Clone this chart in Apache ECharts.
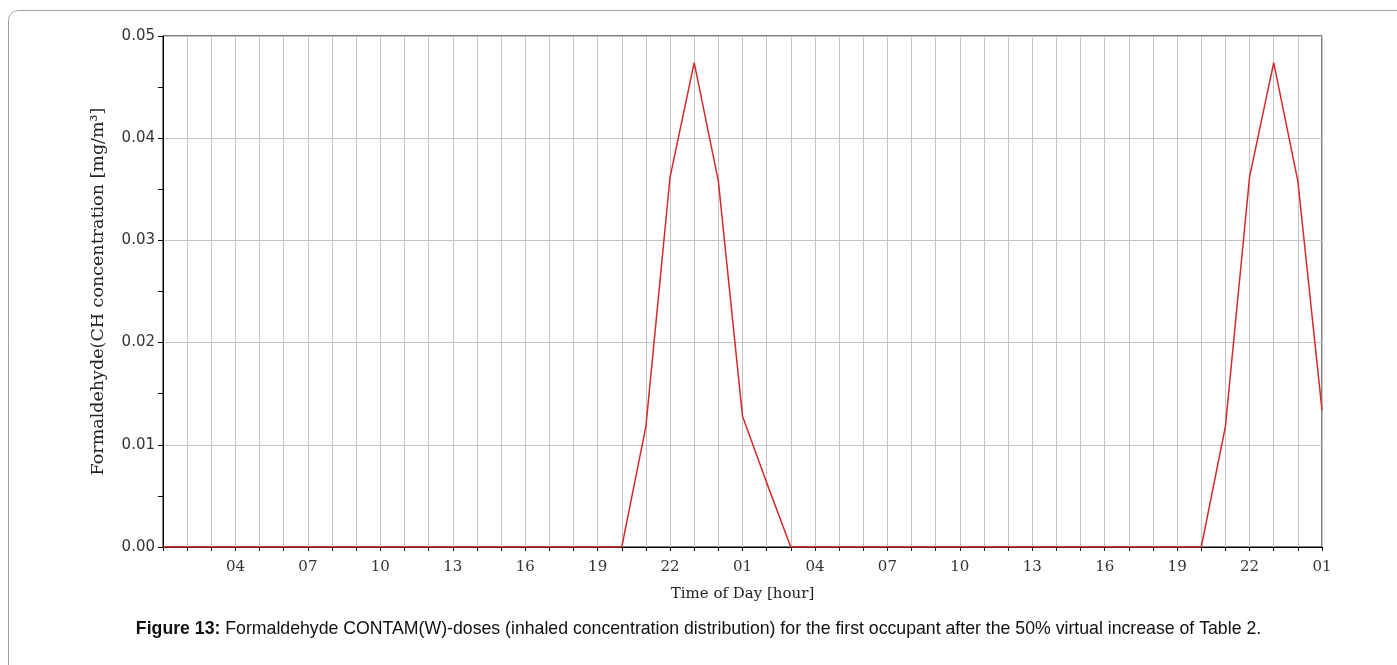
<!DOCTYPE html>
<html>
<head>
<meta charset="utf-8">
<script src="https://cdn.jsdelivr.net/npm/echarts@6/dist/echarts.min.js"></script>
<style>
  html, body { margin: 0; padding: 0; background: #fff; }
  #chart { width: 1397px; height: 665px; }
</style>
</head>
<body>
<div id="chart"></div>
<script>
// hours elapsed since 01:00 on the first day (one point per hour)
var hours = [];
for (var i = 0; i <= 48; i++) hours.push(i);

// formaldehyde concentration, mg/m3
var concentration = [
  0, 0, 0, 0, 0, 0, 0, 0, 0, 0, 0, 0,
  0, 0, 0, 0, 0, 0, 0, 0, 0.0118, 0.0362, 0.0474, 0.0358,
  0.0128, 0.0063, 0, 0, 0, 0, 0, 0, 0, 0, 0, 0,
  0, 0, 0, 0, 0, 0, 0, 0, 0.0118, 0.0362, 0.0474, 0.0358,
  0.0134
];

var yTicks = [0, 0.01, 0.02, 0.03, 0.04, 0.05];

var points = hours.map(function (h, i) { return [h, concentration[i]]; });

var serif = 'DejaVu Serif';
var chart = echarts.init(document.getElementById('chart'));

chart.setOption({
  animation: false,
  backgroundColor: '#fff',
  grid: {
    left: 163, right: 75, top: 36, bottom: 118,
    show: true, borderColor: '#000', borderWidth: 1
  },
  xAxis: {
    type: 'value',
    min: 0, max: 48, interval: 3,
    name: 'Time of Day [hour]',
    nameLocation: 'middle',
    nameGap: 40,
    nameTextStyle: { fontFamily: serif, fontSize: 15, color: '#222' },
    axisLine: { lineStyle: { color: '#000', width: 1 } },
    axisTick: { show: true, length: 4, lineStyle: { color: '#000' } },
    minorTick: { show: true, splitNumber: 3, length: 4, lineStyle: { color: '#000' } },
    splitLine: { show: true, lineStyle: { color: '#c4c4c4', width: 1 } },
    minorSplitLine: { show: true, lineStyle: { color: '#c4c4c4', width: 1 } },
    axisLabel: {
      showMinLabel: false,
      margin: 13,
      fontFamily: serif, fontSize: 15, color: '#333',
      formatter: function (v) {
        var h = (1 + v) % 24;
        return (h < 10 ? '0' : '') + h;
      }
    }
  },
  yAxis: {
    type: 'value',
    min: yTicks[0], max: yTicks[yTicks.length - 1], interval: 0.01,
    name: 'Formaldehyde(CH concentration [mg/m³]',
    nameLocation: 'middle',
    nameGap: 56,
    nameTextStyle: { fontFamily: serif, fontSize: 17.5, color: '#222' },
    axisLine: { show: true, lineStyle: { color: '#000', width: 1 } },
    axisTick: { show: true, length: 5, lineStyle: { color: '#000' } },
    minorTick: { show: true, splitNumber: 2, length: 5, lineStyle: { color: '#000' } },
    splitLine: { show: true, lineStyle: { color: '#c4c4c4', width: 1 } },
    axisLabel: {
      margin: 8,
      fontFamily: 'DejaVu Sans', fontSize: 15, color: '#333',
      formatter: function (v) { return v.toFixed(2); }
    }
  },
  series: [{
    type: 'line',
    data: points,
    showSymbol: false,
    lineStyle: { color: '#d42a2a', width: 1.5 },
    z: 5
  }],
  graphic: [
    {
      // frame around the figure
      type: 'rect',
      shape: { x: 8.5, y: 10.5, width: 1420, height: 720, r: 10 },
      style: { fill: 'none', stroke: '#a0a0a0', lineWidth: 1 },
      z: -1
    },
    {
      type: 'text',
      left: 'center',
      top: 620,
      style: {
        text: '{b|Figure 13:} Formaldehyde CONTAM(W)-doses (inhaled concentration distribution) for the first occupant after the 50% virtual increase of Table 2.',
        font: '17.7px "Liberation Sans"',
        fill: '#111',
        rich: {
          b: { fontWeight: 'bold', fontFamily: 'Liberation Sans', fontSize: 17.7, fill: '#111' }
        }
      }
    }
  ]
});
</script>
</body>
</html>
